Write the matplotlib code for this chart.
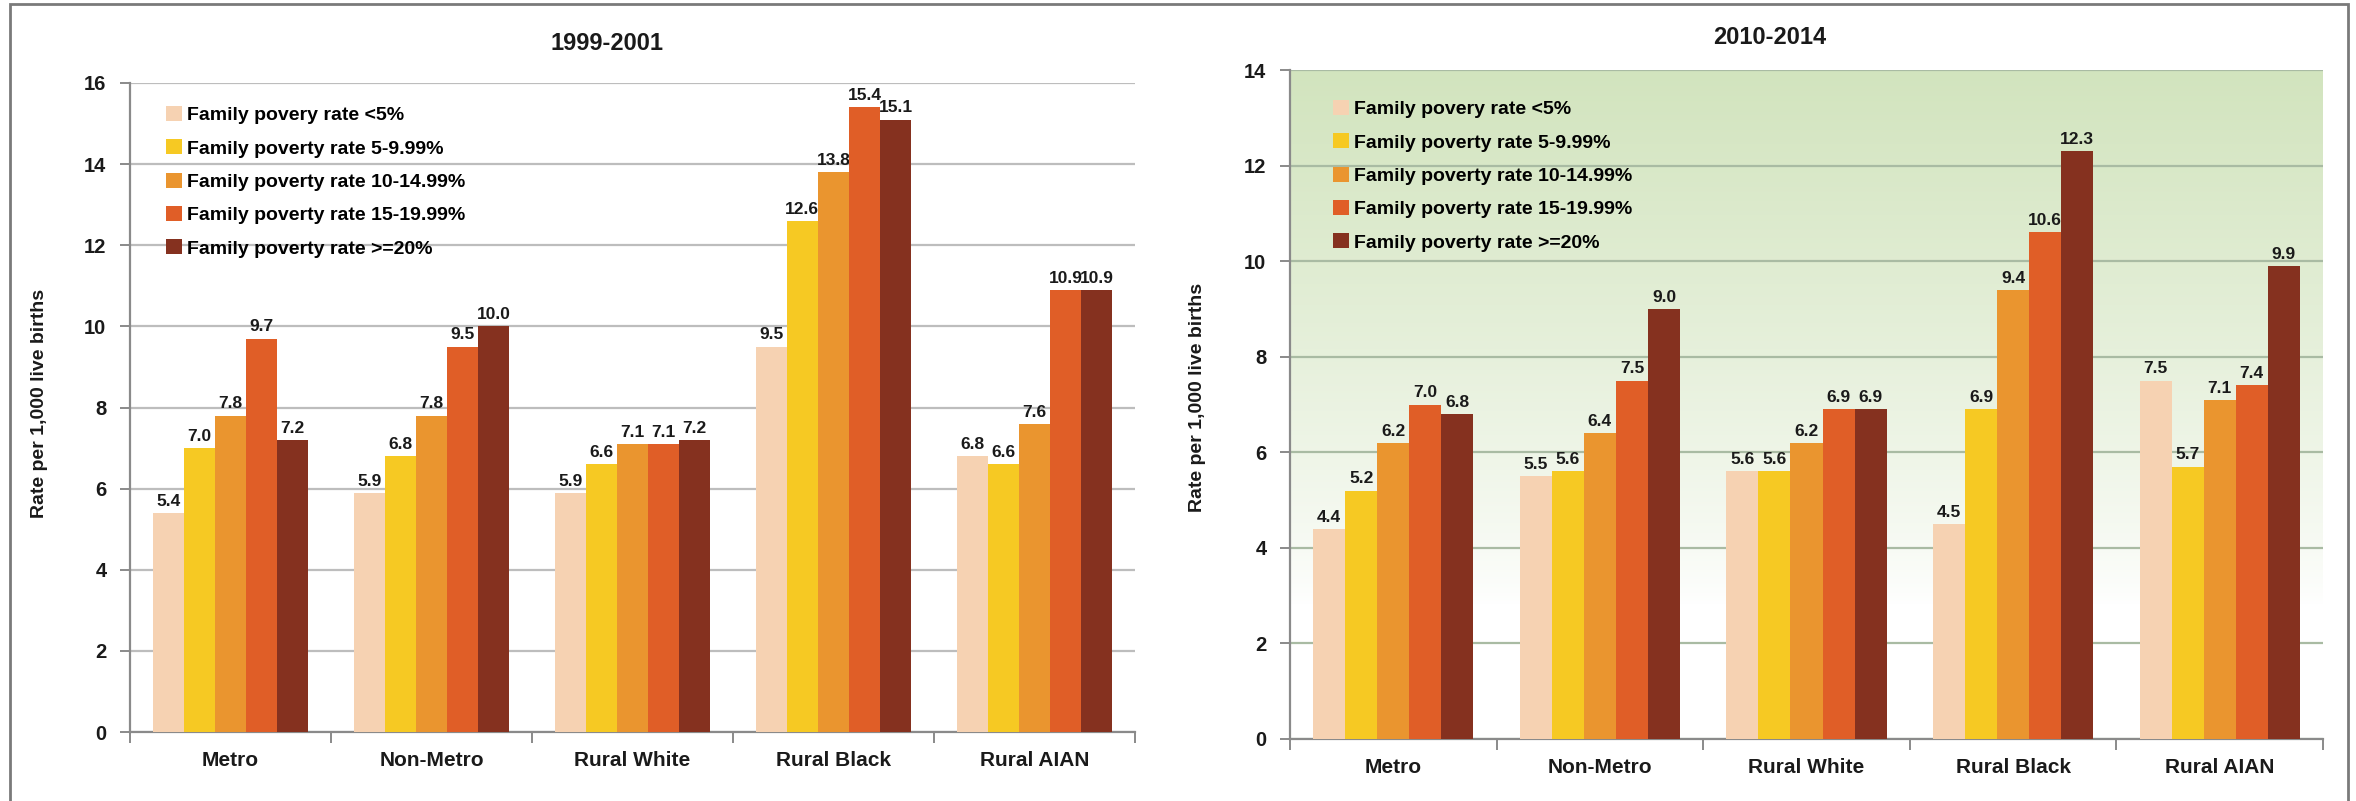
import matplotlib
matplotlib.use("Agg")
import numpy as np
import matplotlib.pyplot as plt
from matplotlib.patches import Rectangle

plt.rcParams["font.family"] = ["Liberation Sans", "DejaVu Sans"]
plt.rcParams["font.weight"] = "bold"

# ---- data -------------------------------------------------------------
categories = ["Metro", "Non-Metro", "Rural White", "Rural Black", "Rural AIAN"]
series_labels = [
    "Family povery rate <5%",
    "Family poverty rate 5-9.99%",
    "Family poverty rate 10-14.99%",
    "Family poverty rate 15-19.99%",
    "Family poverty rate >=20%",
]
series_colors = ["#F6D2B2", "#F6C923", "#EA952F", "#E05E27", "#85311F"]

# rows follow series_labels, columns follow categories
rates_1999_2001 = [
    [5.4, 5.9, 5.9, 9.5, 6.8],
    [7.0, 6.8, 6.6, 12.6, 6.6],
    [7.8, 7.8, 7.1, 13.8, 7.6],
    [9.7, 9.5, 7.1, 15.4, 10.9],
    [7.2, 10.0, 7.2, 15.1, 10.9],
]
rates_2010_2014 = [
    [4.4, 5.5, 5.6, 4.5, 7.5],
    [5.2, 5.6, 5.6, 6.9, 5.7],
    [6.2, 6.4, 6.2, 9.4, 7.1],
    [7.0, 7.5, 6.9, 10.6, 7.4],
    [6.8, 9.0, 6.9, 12.3, 9.9],
]
yticks_1999_2001 = [0, 2, 4, 6, 8, 10, 12, 14, 16]
yticks_2010_2014 = [0, 2, 4, 6, 8, 10, 12, 14]
ylabel = "Rate per 1,000 live births"

# ---- figure -----------------------------------------------------------
W, H = 2356, 801
fig = plt.figure(figsize=(W / 100, H / 100), dpi=100)


def axes_px(x0, x1, ytop, ybot):
    return fig.add_axes([x0 / W, (H - ybot) / H, (x1 - x0) / W, (ybot - ytop) / H])


# outer frame around both panels
fig.add_artist(Rectangle((10 / W, -0.05), (2348 - 10) / W, 1.05 - 4 / H,
                         transform=fig.transFigure, fill=False,
                         edgecolor="#7a7a7a", lw=2.0, clip_on=False))


def draw_panel(ax, data, yticks, grid_color, label_pad, legend_xy):
    n = len(categories)
    centers = np.arange(n) + 0.5
    bw = 0.155
    for i, vals in enumerate(data):
        bars = ax.bar(centers + (i - 2) * bw, vals, width=bw,
                      color=series_colors[i], label=series_labels[i],
                      zorder=3, linewidth=0)
        ax.bar_label(bars, labels=[f"{v:.1f}" for v in vals], padding=3,
                     fontsize=12.5, fontweight="bold", color="#1a1a1a")

    ax.set_xlim(0, n)
    ax.set_ylim(yticks[0], yticks[-1])
    ax.set_yticks(yticks)
    ax.set_yticklabels([str(t) for t in yticks], fontsize=14.5,
                       fontweight="bold", color="#1a1a1a")
    ax.yaxis.grid(True, color=grid_color, lw=1.6)
    ax.set_axisbelow(True)

    ax.set_xticks(np.arange(n + 1))
    ax.set_xticklabels([])
    ax.set_xticks(centers, minor=True)
    ax.set_xticklabels(categories, minor=True, fontsize=15,
                       fontweight="bold", color="#1a1a1a")
    ax.tick_params(axis="x", which="major", length=8, width=1.4,
                   color="#8a8a8a", direction="out")
    ax.tick_params(axis="x", which="minor", length=0, pad=label_pad)
    ax.tick_params(axis="y", length=7, width=1.4, color="#8a8a8a",
                   direction="out", pad=10)

    for side in ("top", "right"):
        ax.spines[side].set_visible(False)
    for side in ("left", "bottom"):
        ax.spines[side].set_color("#8a8a8a")
        ax.spines[side].set_linewidth(1.6)

    ax.legend(loc="upper left",
              bbox_to_anchor=(legend_xy[0] / W, 1 - legend_xy[1] / H),
              bbox_transform=fig.transFigure, frameon=False,
              prop={"size": 14, "weight": "bold"},
              handlelength=0.8, handleheight=0.8, handletextpad=0.3,
              labelspacing=0.78, borderpad=0, borderaxespad=0)


# left panel: 1999-2001
ax1 = axes_px(130, 1135, 83, 732)
draw_panel(ax1, rates_1999_2001, yticks_1999_2001, "#bdbdbd", 14, (166, 106))

# right panel: 2010-2014, light green wash fading to white near the base
ax2 = axes_px(1290, 2323, 70, 739)
ax2.set_facecolor("none")
yy = np.linspace(0, 1, 256)[:, None]
t = np.clip((yy - 0.2) / 0.8, 0, 1) ** 0.8
green = np.array([210, 228, 190]) / 255
white = np.array([1.0, 1.0, 1.0])
grad = white[None, None, :] * (1 - t[..., None]) + green[None, None, :] * t[..., None]
ax2.imshow(grad, extent=[0, 1, 0, 1], transform=ax2.transAxes,
           origin="lower", aspect="auto", zorder=0)
draw_panel(ax2, rates_2010_2014, yticks_2010_2014, "#a9bba3", 14, (1333, 100))

# titles and axis labels
fig.text(607 / W, 1 - 43 / H, "1999-2001", ha="center", va="center",
         fontsize=17, fontweight="bold", color="#1a1a1a")
fig.text(1770 / W, 1 - 38 / H, "2010-2014", ha="center", va="center",
         fontsize=17, fontweight="bold", color="#1a1a1a")
fig.text(40 / W, 1 - 403 / H, ylabel, rotation=90, ha="center", va="center",
         fontsize=14, fontweight="bold", color="#1a1a1a")
fig.text(1197 / W, 1 - 397 / H, ylabel, rotation=90, ha="center", va="center",
         fontsize=14, fontweight="bold", color="#1a1a1a")

fig.savefig("out.png", dpi=100, facecolor="white")
